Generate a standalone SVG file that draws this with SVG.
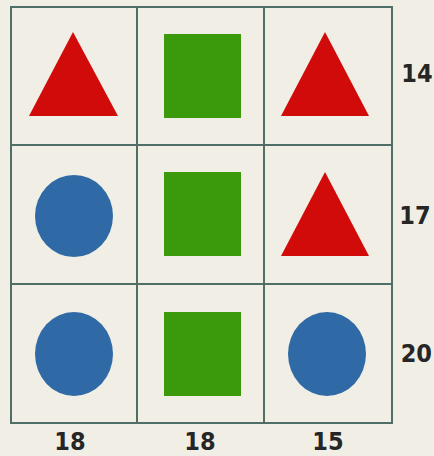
<svg xmlns="http://www.w3.org/2000/svg" width="434" height="456" viewBox="0 0 434 456">
<style>
.grid{fill:none;stroke:#4f6e66;stroke-width:2}
.tri{fill:#d10a0a}
.sq{fill:#3a9a0c}
.ci{fill:#2f6aa6}
.lbl{font-family:"DejaVu Sans",sans-serif;font-weight:bold;font-stretch:condensed;font-size:25px;fill:#262626;text-anchor:middle}
</style>
<rect width="434" height="456" fill="#f1efe5"/>
<g id="grid">
<rect class="grid" x="11" y="7" width="381" height="416"/>
<line class="grid" x1="137" y1="7" x2="137" y2="423"/>
<line class="grid" x1="264" y1="7" x2="264" y2="423"/>
<line class="grid" x1="11" y1="145" x2="392" y2="145"/>
<line class="grid" x1="11" y1="284" x2="392" y2="284"/>
</g>
<g id="r1c1"><polygon class="tri" points="73,32 118,116 29,116"/></g>
<g id="r1c2"><rect class="sq" x="164" y="34" width="77" height="84"/></g>
<g id="r1c3"><polygon class="tri" points="325,32 369,116 281,116"/></g>
<g id="r2c1"><ellipse class="ci" cx="74" cy="216" rx="39" ry="41"/></g>
<g id="r2c2"><rect class="sq" x="164" y="172" width="77" height="84"/></g>
<g id="r2c3"><polygon class="tri" points="325,172 369,256 281,256"/></g>
<g id="r3c1"><ellipse class="ci" cx="74" cy="354" rx="39" ry="42"/></g>
<g id="r3c2"><rect class="sq" x="164" y="312" width="77" height="84"/></g>
<g id="r3c3"><ellipse class="ci" cx="327" cy="354" rx="39" ry="42"/></g>
<g id="labels">
<text class="lbl" x="417" y="82">14</text>
<text class="lbl" x="415" y="224">17</text>
<text class="lbl" x="432" y="362" style="text-anchor:end">20</text>
<text class="lbl" x="70" y="450">18</text>
<text class="lbl" x="200" y="450">18</text>
<text class="lbl" x="328" y="450">15</text>
</g>
</svg>
